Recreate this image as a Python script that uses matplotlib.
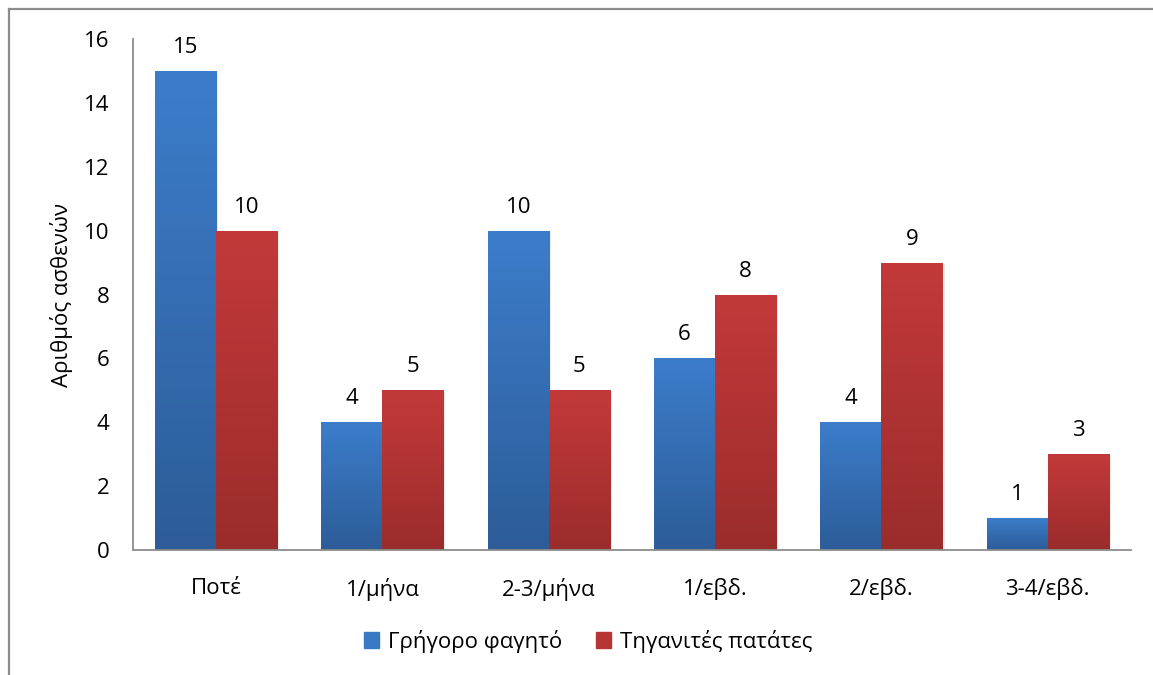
import numpy as np
import matplotlib.pyplot as plt
from matplotlib.colors import LinearSegmentedColormap
from matplotlib.patches import Rectangle

plt.rcParams['font.family'] = ['Open Sans', 'DejaVu Sans']

categories = ['Ποτέ', '1/μήνα', '2-3/μήνα', '1/εβδ.', '2/εβδ.', '3-4/εβδ.']
fast_food = [15, 4, 10, 6, 4, 1]
fries = [10, 5, 5, 8, 9, 3]
series_names = ['Γρήγορο φαγητό', 'Τηγανιτές πατάτες']
y_ticks = [0, 2, 4, 6, 8, 10, 12, 14, 16]

blue_grad = LinearSegmentedColormap.from_list('b', ['#2d5c98', '#3c7dcb'])
red_grad = LinearSegmentedColormap.from_list('r', ['#9b2c2c', '#c3393a'])
fs = 16

fig = plt.figure(figsize=(11.53, 6.75), dpi=100)
ax = fig.add_axes([0.1153, 0.1852, 0.8656, 0.757])

x = np.arange(len(categories))
w = 0.367
grad = np.linspace(0, 1, 256).reshape(-1, 1)

for vals, off, cmap, name in [(fast_food, -w / 2, blue_grad, series_names[0]),
                              (fries, w / 2, red_grad, series_names[1])]:
    bars = ax.bar(x + off, vals, w, color='none', label=name, zorder=2)
    for b, v in zip(bars, vals):
        x0, y0 = b.get_x(), b.get_y()
        bw, bh = b.get_width(), b.get_height()
        # soft shadow
        ax.add_patch(Rectangle((x0 + 0.012, y0), bw, bh - 0.05, color='#000000', alpha=0.08, zorder=1, lw=0))
        im = ax.imshow(grad, cmap=cmap, origin='lower', aspect='auto',
                       extent=(x0, x0 + bw, y0, y0 + bh), zorder=2, interpolation='bilinear')
        im.set_clip_path(b)
        ax.text(x0 + bw / 2, v + 0.56, str(v), ha='center', va='baseline', fontsize=fs)

ax.set_xlim(-0.5, len(categories) - 0.5)
ax.set_ylim(0, 16)
ax.set_yticks(y_ticks)
ax.set_xticks(x)
ax.set_xticklabels(categories)
ax.tick_params(axis='both', length=0, labelsize=fs)
ax.tick_params(axis='y', pad=17)
ax.tick_params(axis='x', pad=20)
ax.set_ylabel('Αριθμός ασθενών', fontsize=fs, labelpad=8)
for s in ['top', 'right']:
    ax.spines[s].set_visible(False)
for s in ['left', 'bottom']:
    ax.spines[s].set_color('#8c8c8c')
    ax.spines[s].set_linewidth(1.3)

handles = [Rectangle((0, 0), 1, 1, color='#3a78c3'), Rectangle((0, 0), 1, 1, color='#b83536')]
fig.legend(handles, series_names, loc='center', bbox_to_anchor=(0.51, 0.05), ncol=2,
           frameon=False, fontsize=fs, handlelength=0.7, handleheight=0.7,
           columnspacing=1.5, handletextpad=0.4)

# outer chart border (top and left visible)
fig.add_artist(plt.Line2D([0.0075, 0.0075], [0, 0.987], color='#8c8c8c', lw=1.6, transform=fig.transFigure))
fig.add_artist(plt.Line2D([0.0075, 1.0], [0.987, 0.987], color='#8c8c8c', lw=1.6, transform=fig.transFigure))

fig.savefig('out.png', dpi=100)
